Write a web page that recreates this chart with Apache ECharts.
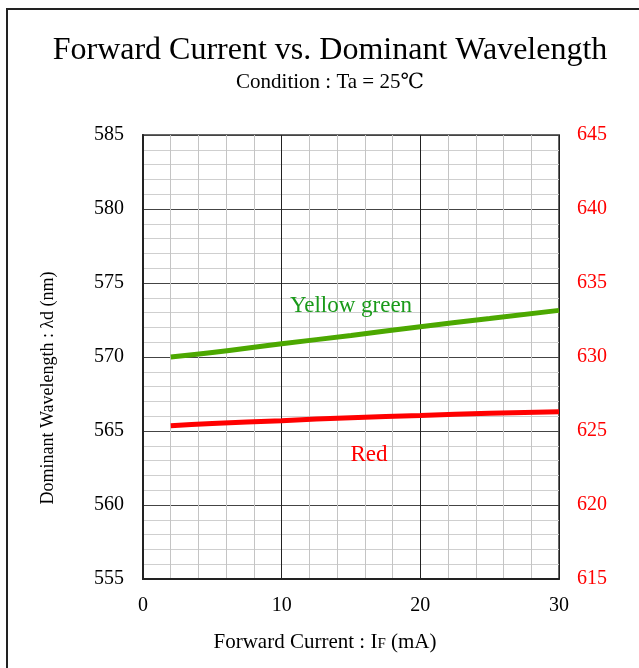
<!DOCTYPE html>
<html>
<head>
<meta charset="utf-8">
<script src="https://cdn.jsdelivr.net/npm/echarts@6/dist/echarts.min.js"></script>
<style>
  html, body { margin: 0; padding: 0; background: #fff; }
  #chart { width: 639px; height: 668px; }
</style>
</head>
<body>
<div id="chart"></div>
<script>
    // forward current (mA)
    var current = [2, 5, 10, 15, 20, 25, 30];
    // yellow green, left axis (nm)
    var yellowGreen = [570.0, 570.3, 570.9, 571.45, 572.05, 572.6, 573.15];
    // red, right axis (nm)
    var red = [625.35, 625.5, 625.7, 625.9, 626.05, 626.2, 626.3];

    var serif = '"Liberation Serif", "DejaVu Serif", serif';

    function pairs(xs, ys) {
        var out = [];
        for (var i = 0; i < xs.length; i++) out.push([xs[i], ys[i]]);
        return out;
    }

    var myChart = echarts.init(document.getElementById('chart'));
    var option = {
        animation: false,
        backgroundColor: '#fff',
        title: {
            text: 'Forward Current vs. Dominant Wavelength',
            subtext: 'Condition : Ta = 25\u2103',
            left: 325,
            textAlign: 'center',
            top: 30,
            itemGap: 5,
            textStyle: { fontFamily: serif, fontSize: 32, fontWeight: 'normal', color: '#000' },
            subtextStyle: { fontFamily: serif, fontSize: 21, color: '#000' }
        },
        graphic: [{
            type: 'rect',
            shape: { x: 7, y: 9, width: 700, height: 700 },
            style: { fill: 'none', stroke: '#222', lineWidth: 2 },
            silent: true
        }],
        grid: {
            left: 143, right: 80, top: 135, bottom: 89,
            show: true, borderColor: '#666', borderWidth: 2
        },
        xAxis: {
            type: 'value',
            min: 0, max: 30, interval: 10,
            name: 'Forward Current : I{s|F} (mA)',
            nameLocation: 'middle',
            nameGap: 53,
            nameTextStyle: {
                fontFamily: serif, fontSize: 21, color: '#000',
                padding: [0, 52, 0, 0],
                rich: { s: { fontFamily: serif, fontSize: 15, color: '#000', padding: [3, 0, 0, 0] } }
            },
            axisLine: { show: true, lineStyle: { color: '#222', width: 2 } },
            axisTick: { show: false },
            axisLabel: { fontFamily: serif, fontSize: 20, color: '#000', margin: 17 },
            splitLine: { show: true, lineStyle: { color: '#222', width: 1 } },
            minorTick: { show: false, splitNumber: 5 },
            minorSplitLine: { show: true, lineStyle: { color: '#c4c4c4', width: 1 } }
        },
        yAxis: [{
            type: 'value',
            min: 555, max: 585, interval: 5,
            name: 'Dominant Wavelength : \u03bbd (nm)',
            nameLocation: 'middle',
            nameGap: 86,
            nameTextStyle: { fontFamily: serif, fontSize: 18, color: '#000', padding: [0, 62, 0, 0] },
            axisLine: { show: true, lineStyle: { color: '#222', width: 2 } },
            axisTick: { show: false },
            axisLabel: { fontFamily: serif, fontSize: 20, color: '#000', margin: 19 },
            splitLine: { show: true, lineStyle: { color: '#444', width: 1 } },
            minorTick: { show: false, splitNumber: 5 },
            minorSplitLine: { show: true, lineStyle: { color: '#cfcfcf', width: 1 } }
        }, {
            type: 'value',
            min: 615, max: 645, interval: 5,
            position: 'right',
            axisLine: { show: false },
            axisTick: { show: false },
            axisLabel: { fontFamily: serif, fontSize: 20, color: '#ff0000', margin: 18 },
            splitLine: { show: false }
        }],
        series: [{
            name: 'Yellow green',
            type: 'line',
            yAxisIndex: 0,
            data: pairs(current, yellowGreen),
            smooth: true,
            symbol: 'none',
            lineStyle: { color: '#4ca800', width: 5 },
            markPoint: {
                symbol: 'circle', symbolSize: 0,
                data: [{ coord: [15, 573.45] }],
                label: {
                    show: true, position: 'inside', formatter: 'Yellow green',
                    fontFamily: serif, fontSize: 23, color: '#1a9a1a'
                }
            }
        }, {
            name: 'Red',
            type: 'line',
            yAxisIndex: 1,
            data: pairs(current, red),
            smooth: true,
            symbol: 'none',
            lineStyle: { color: '#ff0000', width: 5 },
            markPoint: {
                symbol: 'circle', symbolSize: 0,
                data: [{ coord: [16.3, 623.4] }],
                label: {
                    show: true, position: 'inside', formatter: 'Red',
                    fontFamily: serif, fontSize: 23, color: '#ff0000'
                }
            }
        }]
    };
    myChart.setOption(option);
</script>
</body>
</html>
